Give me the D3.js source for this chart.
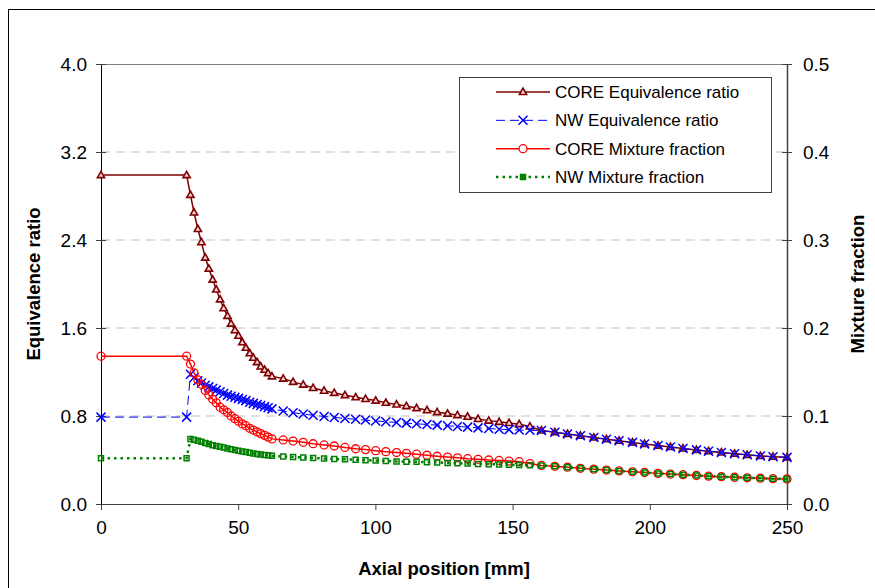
<!DOCTYPE html>
<html>
<head>
<meta charset="utf-8">
<script src="https://cdn.jsdelivr.net/npm/d3@7"></script>
<style>
  body { margin: 0; background: #fff; }
  svg { display: block; font-family: "Liberation Sans", Arial, sans-serif; }
</style>
</head>
<body>
<div id="wrapper"></div>
<script>
// axial positions [mm], shared by all four series
const axialPos = [0, 31.2, 32.6, 33.9, 35.3, 36.6, 38.0, 39.3, 40.7, 42.0, 43.4, 44.7, 46.1, 47.4, 48.8,
    50.1, 51.5, 52.8, 54.2, 55.5, 56.9, 58.2, 59.6, 60.9, 62.3, 66.4, 70.0, 73.7, 77.3, 81.3, 85.0,
    88.9, 92.8, 96.4, 100.1, 103.8, 107.7, 111.3, 115.0, 118.8, 122.5, 126.3, 129.9, 133.6, 137.4,
    141.3, 145.1, 148.7, 152.4, 156.3, 160.5, 165.4, 170.0, 174.7, 179.6, 184.2, 188.8, 193.7, 198.1,
    203.0, 207.5, 212.1, 217.0, 221.4, 226.1, 230.9, 235.5, 240.3, 244.9, 250.0];

const coreEq = [2.99, 2.99, 2.81, 2.65, 2.50, 2.38, 2.24, 2.14, 2.04, 1.95, 1.86, 1.78, 1.71, 1.64, 1.58,
    1.53, 1.47, 1.42, 1.37, 1.33, 1.29, 1.25, 1.22, 1.19, 1.16, 1.14, 1.11, 1.085, 1.055, 1.03, 1.01,
    0.99, 0.97, 0.955, 0.94, 0.92, 0.905, 0.89, 0.872, 0.852, 0.835, 0.822, 0.808, 0.793, 0.773,
    0.758, 0.747, 0.737, 0.726, 0.705, 0.668, 0.652, 0.637, 0.621, 0.604, 0.589, 0.575, 0.560, 0.546,
    0.531, 0.518, 0.505, 0.492, 0.480, 0.468, 0.457, 0.447, 0.437, 0.430, 0.424];

const nwEq = [0.79, 0.79, 1.18, 1.15, 1.12, 1.10, 1.08, 1.065, 1.05, 1.035, 1.02, 1.005, 0.99, 0.98, 0.97,
    0.96, 0.95, 0.94, 0.925, 0.915, 0.905, 0.895, 0.885, 0.875, 0.865, 0.845, 0.83, 0.818, 0.806, 0.796, 0.787,
    0.778, 0.77, 0.763, 0.755, 0.748, 0.741, 0.735, 0.729, 0.723, 0.717, 0.711, 0.705, 0.699, 0.692,
    0.686, 0.680, 0.676, 0.672, 0.670, 0.668, 0.652, 0.637, 0.621, 0.604, 0.589, 0.575, 0.560, 0.546,
    0.531, 0.518, 0.505, 0.492, 0.480, 0.468, 0.457, 0.447, 0.437, 0.430, 0.424];

const coreMix = [0.168, 0.168, 0.159, 0.149, 0.141, 0.136, 0.129, 0.124, 0.119, 0.115, 0.110, 0.107, 0.104, 0.100, 0.097,
    0.094, 0.091, 0.089, 0.086, 0.084, 0.082, 0.080, 0.078, 0.076, 0.074, 0.0728, 0.0715, 0.0701, 0.0685, 0.0671, 0.0659,
    0.0643, 0.0628, 0.0618, 0.0606, 0.0595, 0.0585, 0.0576, 0.0566, 0.0554, 0.0543, 0.0533, 0.0525, 0.0515, 0.0508,
    0.0500, 0.0495, 0.0488, 0.0481, 0.046, 0.0438, 0.0428, 0.0418, 0.0406, 0.0396, 0.0386, 0.0376, 0.0366, 0.0358,
    0.0348, 0.034, 0.0333, 0.0324, 0.0316, 0.031, 0.0304, 0.0298, 0.0293, 0.0288, 0.0284];

const nwMix = [0.052, 0.052, 0.074, 0.073, 0.072, 0.0706, 0.0694, 0.0681, 0.0669, 0.0659, 0.065, 0.0641, 0.0631, 0.0623, 0.0613,
    0.0605, 0.0598, 0.059, 0.0583, 0.0575, 0.0569, 0.0563, 0.0558, 0.0553, 0.0548, 0.054, 0.0535, 0.0529, 0.0524, 0.0516, 0.0511,
    0.0508, 0.0504, 0.0498, 0.0494, 0.0489, 0.0484, 0.0481, 0.0479, 0.0475, 0.0473, 0.0466, 0.0463, 0.0459, 0.0455,
    0.0453, 0.0449, 0.0445, 0.0443, 0.044, 0.0438, 0.0428, 0.0418, 0.0406, 0.0396, 0.0386, 0.0376, 0.0366, 0.0358,
    0.0348, 0.034, 0.0333, 0.0324, 0.0316, 0.031, 0.0304, 0.0298, 0.0293, 0.0288, 0.0284];

const xTicks = [0, 50, 100, 150, 200, 250];
const eqTicks = [0, 0.8, 1.6, 2.4, 3.2, 4.0];
const mixTicks = [0, 0.1, 0.2, 0.3, 0.4, 0.5];
const seriesNames = ["CORE Equivalence ratio", "NW Equivalence ratio", "CORE Mixture fraction", "NW Mixture fraction"];

const dimension = {
    width: 875,
    height: 588,
    left: 101,
    right: 787,
    top: 64,
    bottom: 504
};

const svg = d3.select("#wrapper").append("svg")
    .attr("width", dimension.width)
    .attr("height", dimension.height);

// outer chart frame (only left/top edges fall inside the window)
svg.append("rect")
    .attr("x", 8.5).attr("y", 9.5)
    .attr("width", 1000).attr("height", 1000)
    .attr("fill", "none").attr("stroke", "#000");

const xScaler = d3.scaleLinear().domain([0, 250]).range([dimension.left, dimension.right]);
const eqScaler = d3.scaleLinear().domain([0, 4]).range([dimension.bottom, dimension.top]);
const mixScaler = d3.scaleLinear().domain([0, 0.5]).range([dimension.bottom, dimension.top]);

// gridlines
svg.append("g")
    .selectAll("line")
    .data(eqTicks.filter(d => d > 0 && d < 4))
    .join("line")
    .attr("x1", dimension.left).attr("x2", dimension.right)
    .attr("y1", d => eqScaler(d)).attr("y2", d => eqScaler(d))
    .attr("stroke", "#c0c0c0").attr("stroke-width", 1.2)
    .attr("stroke-dasharray", "9,6");

// top border of plot area
svg.append("line")
    .attr("x1", dimension.left).attr("x2", dimension.right)
    .attr("y1", dimension.top + 0.5).attr("y2", dimension.top + 0.5)
    .attr("stroke", "#808080");

const fontSize = "19px";

// x axis
const xAxis = d3.axisBottom(xScaler).tickValues(xTicks).tickSizeInner(6).tickSizeOuter(0).tickPadding(11);
const gx = svg.append("g").attr("transform", `translate(0,${dimension.bottom})`).call(xAxis);
gx.select(".domain").attr("stroke", "#404040");
gx.selectAll(".tick line").attr("stroke", "#404040");
gx.selectAll(".tick text").attr("font-size", fontSize).attr("fill", "#000").attr("font-family", null);

// left axis
const yAxis = d3.axisLeft(eqScaler).tickValues(eqTicks).tickFormat(d3.format(".1f")).tickSizeOuter(0).tickPadding(8);
const gy = svg.append("g").attr("transform", `translate(${dimension.left},0)`).call(yAxis);
gy.select(".domain").attr("stroke", "#000");
gy.selectAll(".tick line").attr("x1", 5).attr("x2", -5).attr("stroke", "#404040");
gy.selectAll(".tick text").attr("font-size", fontSize).attr("fill", "#000").attr("font-family", null);

// right axis
const y2Axis = d3.axisRight(mixScaler).tickValues(mixTicks).tickFormat(d3.format(".1f")).tickSizeOuter(0).tickPadding(10);
const gy2 = svg.append("g").attr("transform", `translate(${dimension.right},0)`).call(y2Axis);
gy2.select(".domain").attr("stroke", "#404040").attr("stroke-width", 1.5);
gy2.selectAll(".tick line").attr("x1", -5).attr("x2", 5).attr("stroke", "#404040");
gy2.selectAll(".tick text").attr("font-size", fontSize).attr("fill", "#000").attr("font-family", null);

// axis titles
svg.append("text")
    .attr("x", 444).attr("y", 575)
    .attr("text-anchor", "middle")
    .attr("font-size", "18.5px").attr("font-weight", "bold")
    .text("Axial position [mm]");
svg.append("text")
    .attr("transform", `translate(40,${(dimension.top + dimension.bottom) / 2}) rotate(-90)`)
    .attr("text-anchor", "middle")
    .attr("font-size", "18.5px").attr("font-weight", "bold")
    .text("Equivalence ratio");
svg.append("text")
    .attr("transform", `translate(864,${(dimension.top + dimension.bottom) / 2}) rotate(-90)`)
    .attr("text-anchor", "middle")
    .attr("font-size", "18.5px").attr("font-weight", "bold")
    .text("Mixture fraction");

// marker shapes
const markerPath = {
    triangle: "M0,-3.8L3.6,2.5L-3.6,2.5Z",
    cross: "M-4.5,-4.5L4.5,4.5M-4.5,4.5L4.5,-4.5",
    circle: d3.symbol(d3.symbolCircle, 50)(),
    square: "M-2.5,-2.5H2.5V2.5H-2.5Z"
};

const series = [
    {name: seriesNames[0], values: coreEq, scale: eqScaler, color: "#800000", width: 1.5, dash: null, marker: "triangle", fill: "#f0d8d8", mw: 1.6},
    {name: seriesNames[1], values: nwEq, scale: eqScaler, color: "#0000ff", width: 1, dash: "9,5", marker: "cross", fill: "none", mw: 1.5},
    {name: seriesNames[2], values: coreMix, scale: mixScaler, color: "#ff0000", width: 1.5, dash: null, marker: "circle", fill: "none", mw: 1.3},
    {name: seriesNames[3], values: nwMix, scale: mixScaler, color: "#008000", width: 2.5, dash: "2.5,4", marker: "square", fill: "none", mw: 1.5}
];

const lineGenerator = d3.line();

series.forEach(s => {
    const pts = axialPos.map((x, i) => [xScaler(x), s.scale(s.values[i])]);
    const g = svg.append("g");
    g.append("path")
        .attr("d", lineGenerator(pts))
        .attr("fill", "none")
        .attr("stroke", s.color)
        .attr("stroke-width", s.width)
        .attr("stroke-dasharray", s.dash);
    g.selectAll("path.mk")
        .data(pts)
        .join("path")
        .attr("class", "mk")
        .attr("d", markerPath[s.marker])
        .attr("transform", d => `translate(${d[0]},${d[1]})`)
        .attr("fill", s.fill)
        .attr("stroke", s.color)
        .attr("stroke-width", s.mw);
});

// legend
const legend = svg.append("g");
legend.append("rect")
    .attr("x", 459.5).attr("y", 77.5).attr("width", 312).attr("height", 115)
    .attr("fill", "#fff").attr("stroke", "#404040");
const legendY = d3.scalePoint().domain(seriesNames).range([92, 177]);
series.forEach(s => {
    const y = legendY(s.name);
    legend.append("line")
        .attr("x1", 496).attr("x2", 550).attr("y1", y).attr("y2", y)
        .attr("stroke", s.color).attr("stroke-width", s.width)
        .attr("stroke-dasharray", s.dash);
    legend.append("path")
        .attr("d", markerPath[s.marker])
        .attr("transform", `translate(523,${y})`)
        .attr("fill", s.marker === "square" ? "#008000" : (s.fill === "none" ? "#fff" : s.fill))
        .attr("stroke", s.color).attr("stroke-width", s.mw);
    legend.append("text")
        .attr("x", 555).attr("y", y + 6)
        .attr("font-size", "17px")
        .text(s.name);
});
</script>
</body>
</html>
